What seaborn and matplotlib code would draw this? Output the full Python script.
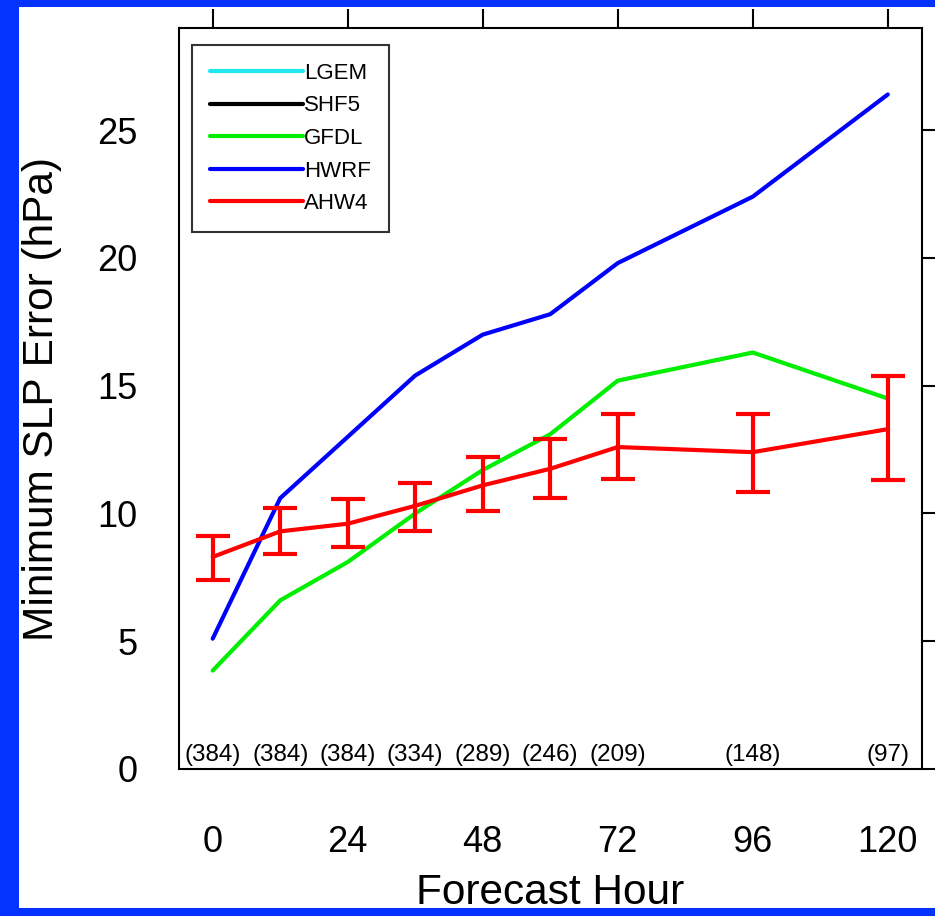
import numpy as np
import pandas as pd
import matplotlib
matplotlib.use("Agg")
import matplotlib.pyplot as plt
import seaborn as sns
from matplotlib.lines import Line2D
from matplotlib.patches import Rectangle

# ---- data ----
hours = [0, 12, 24, 36, 48, 60, 72, 96, 120]
ahw4 = [8.3, 9.3, 9.6, 10.3, 11.1, 11.75, 12.6, 12.4, 13.3]
ahw4_hi = [9.1, 10.2, 10.55, 11.2, 12.2, 12.9, 13.9, 13.9, 15.4]
ahw4_lo = [7.4, 8.4, 8.7, 9.3, 10.1, 10.6, 11.35, 10.85, 11.3]
hwrf = [5.1, 10.6, 13.0, 15.4, 17.0, 17.8, 19.8, 22.4, 26.4]
gfdl = [3.85, 6.6, 8.1, 10.0, 11.7, 13.1, 15.2, 16.3, 14.5]
counts = ["(384)", "(384)", "(384)", "(334)", "(289)", "(246)", "(209)", "(148)", "(97)"]
legend_names = ["LGEM", "SHF5", "GFDL", "HWRF", "AHW4"]
xticks = [0, 24, 48, 72, 96, 120]
yticks = [0, 5, 10, 15, 20, 25]

colors = {"LGEM": "#1ee8f0", "SHF5": "#000000", "GFDL": "#00ee00",
          "HWRF": "#0000ff", "AHW4": "#ff0000"}

sns.set_style("white")
plt.rcParams["font.family"] = ["Liberation Sans", "DejaVu Sans"]
plt.rcParams["text.color"] = "black"
plt.rcParams["axes.labelcolor"] = "black"
plt.rcParams["xtick.color"] = "black"
plt.rcParams["ytick.color"] = "black"

fig = plt.figure(figsize=(9.35, 9.16), dpi=100)
fig.patch.set_facecolor("white")
ax = fig.add_axes([0.1914, 0.1605, 0.7942, 0.8089])

df = pd.DataFrame({
    "hour": hours * 3,
    "err": gfdl + hwrf + ahw4,
    "model": ["GFDL"] * len(hours) + ["HWRF"] * len(hours) + ["AHW4"] * len(hours),
})
sns.lineplot(data=df, x="hour", y="err", hue="model", palette=colors,
             hue_order=["GFDL", "HWRF", "AHW4"], linewidth=3, legend=False,
             sort=False, ax=ax, estimator=None)

lo = np.array(ahw4) - np.array(ahw4_lo)
hi = np.array(ahw4_hi) - np.array(ahw4)
ax.errorbar(hours, ahw4, yerr=[lo, hi], fmt="none", ecolor=colors["AHW4"],
            elinewidth=3, capsize=12.5, capthick=3, zorder=5)

for h, c in zip(hours, counts):
    ax.text(h, 0.1, c, ha="center", va="bottom", fontsize=17.5, color="black")

ax.set_xlim(-6, 126)
ax.set_ylim(0, 29)
ax.set_xticks(xticks)
ax.set_yticks(yticks)
ax.tick_params(direction="out", length=14, width=1.5, top=True, right=True,
               labeltop=False, labelright=False, colors="black")
ax.tick_params(axis="x", labelsize=26, pad=26)
ax.tick_params(axis="y", labelsize=26, pad=16)
for s in ax.spines.values():
    s.set_linewidth(1.5)
    s.set_color("black")

ax.set_xlabel("Forecast Hour", fontsize=30.5, labelpad=10, color="black")
ax.set_ylabel("Minimum SLP Error (hPa)", fontsize=30.5, labelpad=25, color="black")

handles = [Line2D([], [], color=colors[n], lw=3) for n in legend_names]
leg = ax.legend(handles, legend_names, loc="upper left",
                bbox_to_anchor=(0.0175, 0.977), borderaxespad=0,
                fontsize=16, handlelength=4.2, handletextpad=0.05,
                labelspacing=0.52, fancybox=False, framealpha=1,
                edgecolor="#333333", borderpad=0.8)
leg.get_frame().set_linewidth(1.5)
for t in leg.get_texts():
    t.set_color("black")

# blue frame around the picture
blue = "#0433ff"
for rect in [(0, 0, 19 / 935, 1), (0, 1 - 7 / 916, 1, 7 / 916), (0, 0, 1, 8 / 916)]:
    fig.add_artist(Rectangle(rect[:2], rect[2], rect[3], transform=fig.transFigure,
                             facecolor=blue, edgecolor="none", zorder=10))

fig.savefig("out.png", dpi=100)
